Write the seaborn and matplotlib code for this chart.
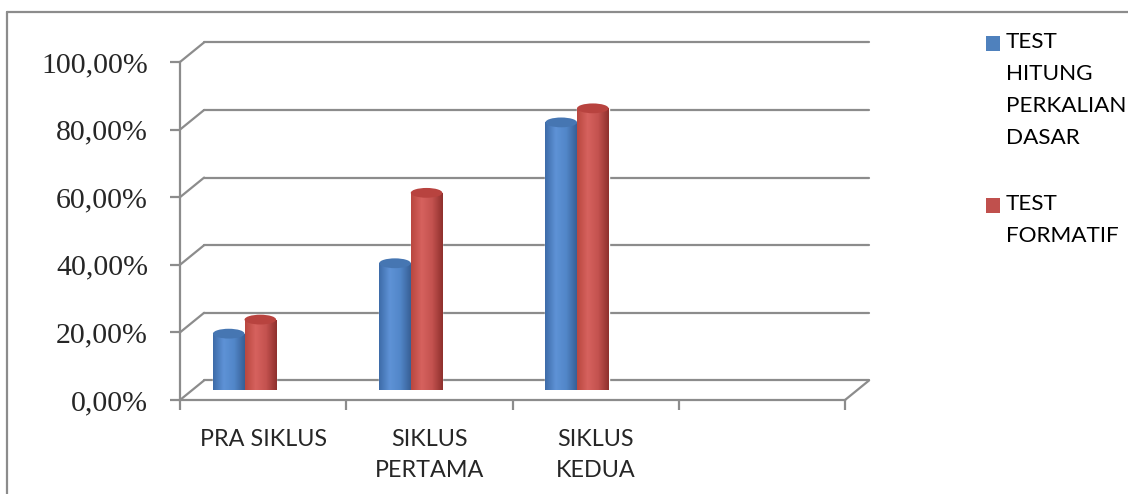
import numpy as np
import pandas as pd
import matplotlib
matplotlib.use("Agg")
import matplotlib.pyplot as plt
import seaborn as sns
from matplotlib.colors import LinearSegmentedColormap
from matplotlib.patches import Ellipse
from matplotlib.lines import Line2D

# data
categories = ["PRA SIKLUS", "SIKLUS\nPERTAMA", "SIKLUS\nKEDUA"]
series = ["TEST\nHITUNG\nPERKALIAN\nDASAR", "TEST\nFORMATIF"]
test_hitung = [16.67, 37.50, 79.17]
test_formatif = [20.83, 58.33, 83.33]
ytick_vals = [0, 20, 40, 60, 80, 100]
ytick_labels = [f"{v:.2f}%".replace(".", ",") for v in ytick_vals]

df = pd.DataFrame({
    "siklus": categories * 2,
    "nilai": test_hitung + test_formatif,
    "test": [series[0]] * 3 + [series[1]] * 3,
})

sns.set_theme(style="white")
plt.rcParams["font.family"] = ["Lato", "DejaVu Sans"]

W, H = 1128, 494
fig = plt.figure(figsize=(W / 100, H / 100), dpi=100)
fig.patch.set_facecolor("white")

def px_axes(x0, y0, x1, y1):
    return fig.add_axes([x0 / W, 1 - y1 / H, (x1 - x0) / W, (y1 - y0) / H])

grid_c = "#8c8c8c"
blue, red = "#4F81BD", "#C0504D"

# front frame (walls / floor)
ax = px_axes(180, 62, 845, 400)
ax.set_xlim(-0.5, 3.5)
ax.set_ylim(0, 100)
ax.patch.set_alpha(0)
DX, DY = 0.145, 5.8  # depth offset of back wall in data units
for v in ytick_vals:
    ax.plot([-0.5, -0.5 + DX], [v, v + DY], color=grid_c, lw=1.6, clip_on=False)
    ax.plot([-0.5 + DX, 3.5 + DX], [v + DY, v + DY], color=grid_c, lw=1.6, clip_on=False)
ax.plot([3.5, 3.5 + DX], [0, DY], color=grid_c, lw=1.6, clip_on=False)

for s in ["top", "right"]:
    ax.spines[s].set_visible(False)
for s in ["left", "bottom"]:
    ax.spines[s].set_color(grid_c)
    ax.spines[s].set_linewidth(1.6)
ax.set_yticks(ytick_vals)
ax.set_yticklabels(ytick_labels, family="Liberation Serif", fontsize=21.5)
ax.set_xticks(range(len(categories)))
ax.set_xticklabels(categories, fontsize=16.8, linespacing=1.6, va="top")
ax.set_xticks([-0.5, 0.5, 1.5, 2.5, 3.5], minor=True)
ax.tick_params(axis="y", length=7, width=1.6, color=grid_c, pad=16, left=True)
ax.tick_params(axis="x", which="major", length=0, pad=21)
ax.tick_params(axis="x", which="minor", length=7, width=1.6, color=grid_c, bottom=True)

# cylinders, at mid depth
ax2 = px_axes(161.4, 52, 826.4, 390)
sns.barplot(data=df, x="siklus", y="nilai", hue="test", order=categories,
            hue_order=series, palette=[blue, red], width=0.38,
            legend=False, ax=ax2, saturation=1)

cmaps = {
    "b": LinearSegmentedColormap.from_list("cb", ["#3d6ba8", "#5e92d6", "#5287c9", "#375f95"]),
    "r": LinearSegmentedColormap.from_list("cr", ["#b9473f", "#d6625e", "#c4524f", "#8e302d"]),
}
tops = {"b": "#4676b2", "r": "#b8433f"}
grad = np.linspace(0, 1, 128).reshape(1, -1)
eh = 2.9  # ellipse height in data units
for p in list(ax2.patches):
    x0, w, h = p.get_x(), p.get_width(), p.get_height()
    key = "b" if p.get_facecolor()[2] > p.get_facecolor()[0] else "r"
    im = ax2.imshow(grad, extent=[x0, x0 + w, 0, h], aspect="auto", cmap=cmaps[key], zorder=3)
    im.set_clip_path(p)
    bot = Ellipse((x0 + w / 2, 0), w, eh, facecolor="none", edgecolor="none", zorder=2)
    ax2.add_patch(bot)
    im2 = ax2.imshow(grad, extent=[x0, x0 + w, -eh / 2, eh / 2], aspect="auto", cmap=cmaps[key], zorder=2)
    im2.set_clip_path(bot)
    ax2.add_patch(Ellipse((x0 + w / 2, h), w, eh, facecolor=tops[key], edgecolor="none", zorder=4))
ax2.set_xlim(-0.5, 3.5)
ax2.set_ylim(0, 100)
ax2.axis("off")

# legend
leg_tops = [36, 198]
for name, col, ty in zip(series, [blue, red], leg_tops):
    fig.patches.append(plt.Rectangle((986 / W, 1 - (ty + 15) / H), 14 / W, 15 / H,
                                     transform=fig.transFigure, facecolor=col, edgecolor="none"))
    fig.text(1006 / W, 1 - (ty - 4) / H, name, fontsize=16.2, va="top", ha="left",
             linespacing=1.74, color="black")

# outer chart border
fig.add_artist(Line2D([7 / W, 7 / W], [0, 1 - 12 / H], color="#8c8c8c", lw=1.6))
fig.add_artist(Line2D([7 / W, 1], [1 - 12 / H, 1 - 12 / H], color="#8c8c8c", lw=1.6))

fig.savefig("out.png", dpi=100)
